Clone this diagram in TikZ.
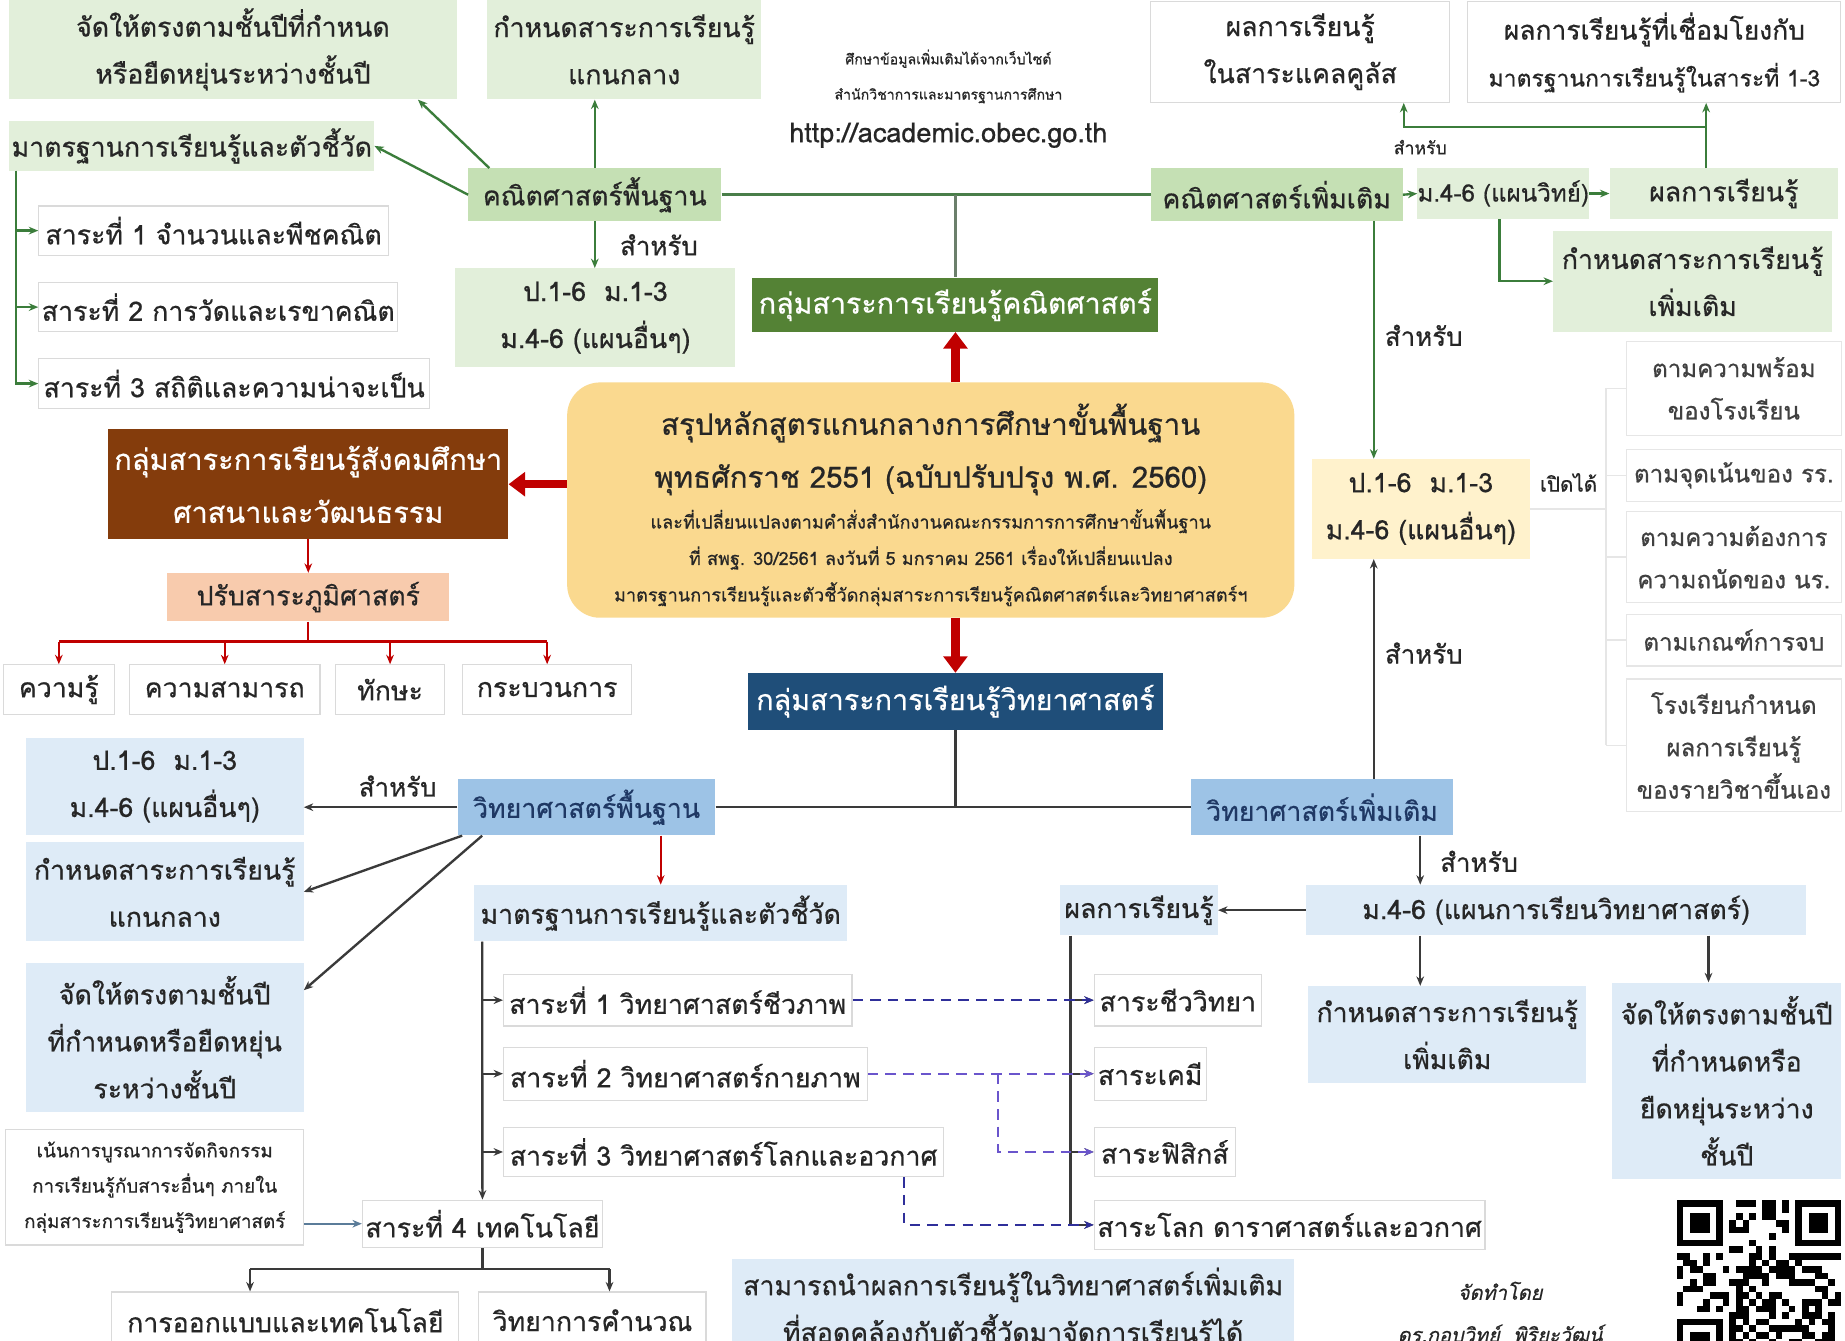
\documentclass[tikz,border=0pt]{standalone}
\usepackage{fontspec}
\setmainfont[Script=Thai,FakeBold=0.6]{Loma}
\usetikzlibrary{arrows.meta,calc}
\definecolor{lgreen}{HTML}{E2EFDA}
\definecolor{mgreen}{HTML}{C5E0B4}
\definecolor{dgreen}{HTML}{548235}
\definecolor{lblue}{HTML}{DEEBF7}
\definecolor{mblue}{HTML}{9DC3E6}
\definecolor{dblue}{HTML}{1F4E79}
\definecolor{navytxt}{HTML}{1F3864}
\definecolor{brownc}{HTML}{843C0C}
\definecolor{peach}{HTML}{F8CBAD}
\definecolor{orng}{HTML}{FAD98F}
\definecolor{yelc}{HTML}{FFF2CC}
\definecolor{redc}{HTML}{C00000}
\definecolor{cgreen}{HTML}{3B7D3B}
\definecolor{dk}{HTML}{3A3A3A}
\definecolor{bord}{HTML}{DADADA}
\definecolor{txt}{HTML}{262626}
\definecolor{gtxt}{HTML}{404040}
\definecolor{dashA}{HTML}{2F2F9A}
\definecolor{dashB}{HTML}{6A55CC}
\definecolor{faintc}{HTML}{E6E6E6}
\definecolor{bluegray}{HTML}{5B7C99}
\newcommand\fsz[2]{\fontsize{#1}{#2}\selectfont}
\tikzset{
  bx/.style={inner sep=0pt, align=center, text=txt, font=\fsz{22.7}{40}},
  sz/.style 2 args={minimum width=#1pt, minimum height=#2pt},
  lg/.style={bx, fill=lgreen},
  mg/.style={bx, fill=mgreen},
  lb/.style={bx, fill=lblue},
  mb/.style={bx, fill=mblue, text=navytxt},
  wb/.style={bx, fill=white, draw=bord, line width=1pt},
  rb/.style={bx, fill=white, draw=faintc, line width=1pt, text=gtxt, font=\fsz{20.5}{36}},
  lbl/.style={inner sep=0pt, align=center, text=txt, font=\fsz{22}{26}},
  tip/.style={-{Stealth[length=8pt,width=6.5pt]}},
  gline/.style={draw=cgreen, line width=2pt},
  gthick/.style={draw=cgreen!80!gray, line width=3pt},
  garr/.style={gline, tip},
  dline/.style={draw=dk, line width=2pt},
  darr/.style={dline, tip},
  barr/.style={draw=bluegray, line width=2pt, tip},
  rline/.style={draw=redc, line width=2pt},
  rarr/.style={rline, tip},
  bigred/.style={draw=redc, line width=7pt, -{Triangle[length=14pt,width=20pt]}},
  dshA/.style={draw=dashA, line width=2pt, dash pattern=on 9pt off 6pt, tip},
  dshB/.style={draw=dashB, line width=2pt, dash pattern=on 9pt off 6pt, tip},
  faint/.style={draw=faintc, line width=1.2pt},
}
\begin{document}
\begin{tikzpicture}[x=1pt,y=-1pt]
\useasboundingbox (0,0) rectangle (1568,1139);
\clip (0,0) rectangle (1568,1139);
\fill[white] (0,0) rectangle (1568,1139);

% ---------- top row ----------
\node[lg, sz={380}{85}] (a1) at (198,42) {จัดให้ตรงตามชั้นปีที่กำหนด\\หรือยืดหยุ่นระหว่างชั้นปี};
\node[lg, sz={233}{85}] (a2) at (530.5,42) {กำหนดสาระการเรียนรู้\\แกนกลาง};
\node[lbl, font=\fsz{12}{30}] (web) at (806,65) {ศึกษาข้อมูลเพิ่มเติมได้จากเว็บไซต์\\สำนักวิชาการและมาตรฐานการศึกษา};
\node[lbl, font=\fsz{23}{26}] (url) at (806,115) {http://academic.obec.go.th};
\node[wb, sz={254}{86}] (a3) at (1105,44) {ผลการเรียนรู้\\ในสาระแคลคูลัส};
\node[wb, sz={317}{86}] (a4) at (1406,44) {};
\node[lbl, font=\fsz{22.5}{26}] (a4t) at (1406,25) {ผลการเรียนรู้ที่เชื่อมโยงกับ};
\node[lbl, font=\fsz{19.5}{22}] (a4b) at (1406,66) {มาตรฐานการเรียนรู้ในสาระที่ 1-3};

% ---------- math ----------
\node[lg, sz={310}{42}] (mat1) at (163,124) {มาตรฐานการเรียนรู้และตัวชี้วัด};
\node[mg, sz={215}{45}] (kp) at (505.5,165.5) {คณิตศาสตร์พื้นฐาน};
\node[mg, sz={214}{45}] (kt) at (1085,165.5) {คณิตศาสตร์เพิ่มเติม};
\node[lg, sz={135}{43}, font=\fsz{20.5}{24}] (m46a) at (1277.5,164.5) {ม.4-6 (แผนวิทย์)};
\node[lg, sz={194}{43}] (pla) at (1465,164.5) {ผลการเรียนรู้};
\node[wb, sz={297}{42}] (s1) at (181.5,196) {สาระที่ 1 จำนวนและพีชคณิต};
\node[wb, sz={305}{42}] (s2) at (185.5,261) {สาระที่ 2 การวัดและเรขาคณิต};
\node[wb, sz={332}{42}] (s3) at (199,326) {สาระที่ 3 สถิติและความน่าจะเป็น};
\node[lg, sz={238}{84}] (p1) at (506,270) {ป.1-6\ \ ม.1-3\\ม.4-6 (แผนอื่นๆ)};
\node[bx, fill=dgreen, text=white, sz={345}{46}, font=\fsz{24.3}{30}] (gk) at (812,259) {กลุ่มสาระการเรียนรู้คณิตศาสตร์};
\node[lg, sz={237}{86}] (kadd) at (1438.5,239) {กำหนดสาระการเรียนรู้\\เพิ่มเติม};

% ---------- center ----------
\node[bx, fill=orng, rounded corners=28pt, sz={618}{200}] (or) at (791,425) {};
\node[lbl, font=\fsz{25}{45}] (ort) at (791,382) {สรุปหลักสูตรแกนกลางการศึกษาขั้นพื้นฐาน\\พุทธศักราช 2551 (ฉบับปรับปรุง พ.ศ. 2560)};
\node[lbl, font=\fsz{15.4}{31}] (ors) at (791,474) {และที่เปลี่ยนแปลงตามคำสั่งสำนักงานคณะกรรมการการศึกษาขั้นพื้นฐาน\\ที่ สพฐ. 30/2561 ลงวันที่ 5 มกราคม 2561 เรื่องให้เปลี่ยนแปลง\\มาตรฐานการเรียนรู้และตัวชี้วัดกลุ่มสาระการเรียนรู้คณิตศาสตร์และวิทยาศาสตร์ฯ};

\node[bx, fill=brownc, text=white, sz={340}{93}, font=\fsz{24.6}{45}] (soc) at (262,411.5) {กลุ่มสาระการเรียนรู้สังคมศึกษา\\ศาสนาและวัฒนธรรม};
\node[bx, fill=peach, sz={240}{41}] (geo) at (262,507.5) {ปรับสาระภูมิศาสตร์};
\node[wb, sz={94}{42}] (k1) at (50,586) {ความรู้};
\node[wb, sz={162}{42}] (k2) at (191,586) {ความสามารถ};
\node[wb, sz={93}{42}] (k3) at (331.5,586) {ทักษะ};
\node[wb, sz={144}{42}] (k4) at (465,586) {กระบวนการ};

\node[bx, fill=yelc, sz={185}{85}] (yel) at (1207.5,432.5) {ป.1-6\ \ ม.1-3\\ม.4-6 (แผนอื่นๆ)};
\node[lbl, font=\fsz{17.5}{20}] (open) at (1333,410) {เปิดได้};
\node[rb, sz={183}{80}] (r1) at (1473.5,330) {ตามความพร้อม\\ของโรงเรียน};
\node[rb, sz={183}{44}] (r2) at (1473.5,404) {ตามจุดเน้นของ รร.};
\node[rb, sz={183}{77}] (r3) at (1473.5,473.5) {ตามความต้องการ\\ความถนัดของ นร.};
\node[rb, sz={183}{44}] (r4) at (1473.5,544) {ตามเกณฑ์การจบ};
\node[rb, sz={183}{113}] (r5) at (1473.5,633.5) {โรงเรียนกำหนด\\ผลการเรียนรู้\\ของรายวิชาขึ้นเอง};

% ---------- science ----------
\node[bx, fill=dblue, text=white, sz={352}{48}, font=\fsz{24.4}{30}] (gv) at (812,596) {กลุ่มสาระการเรียนรู้วิทยาศาสตร์};
\node[mb, sz={219}{48}] (vp) at (498.5,686) {วิทยาศาสตร์พื้นฐาน};
\node[mb, sz={223}{48}] (vt) at (1123.5,686) {วิทยาศาสตร์เพิ่มเติม};
\node[lb, sz={236}{83}] (b1) at (140,668.5) {ป.1-6\ \ ม.1-3\\ม.4-6 (แผนอื่นๆ)};
\node[lb, sz={236}{84}] (b2) at (140,758) {กำหนดสาระการเรียนรู้\\แกนกลาง};
\node[lb, sz={236}{127}] (b3) at (140,881.5) {จัดให้ตรงตามชั้นปี\\ที่กำหนดหรือยืดหยุ่น\\ระหว่างชั้นปี};
\node[lb, sz={317}{48}] (vm) at (561.5,776) {มาตรฐานการเรียนรู้และตัวชี้วัด};
\node[wb, sz={296}{44}] (vs1) at (576,850) {สาระที่ 1 วิทยาศาสตร์ชีวภาพ};
\node[wb, sz={309}{45}] (vs2) at (582.5,912.5) {สาระที่ 2 วิทยาศาสตร์กายภาพ};
\node[wb, sz={374}{42}] (vs3) at (615,979) {สาระที่ 3 วิทยาศาสตร์โลกและอวกาศ};
\node[wb, sz={204}{40}] (vs4) at (410,1040) {สาระที่ 4 เทคโนโลยี};
\node[wb, sz={253}{98}, font=\fsz{16}{30}] (note) at (131.5,1009) {เน้นการบูรณาการจัดกิจกรรม\\การเรียนรู้กับสาระอื่นๆ ภายใน\\กลุ่มสาระการเรียนรู้วิทยาศาสตร์};
\node[wb, sz={295}{48}] (t1) at (242.5,1122) {การออกแบบและเทคโนโลยี};
\node[wb, sz={193}{48}] (t2) at (503.5,1122) {วิทยาการคำนวณ};
\node[lb, sz={425}{43}] (vm46) at (1322.5,773.5) {ม.4-6 (แผนการเรียนวิทยาศาสตร์)};
\node[lb, sz={134}{43}] (vpl) at (968,773.5) {ผลการเรียนรู้};
\node[wb, sz={142}{44}] (c1) at (1001,850) {สาระชีววิทยา};
\node[wb, sz={95}{45}] (c2) at (977.5,912.5) {สาระเคมี};
\node[wb, sz={120}{42}] (c3) at (990,979) {สาระฟิสิกส์};
\node[wb, sz={332}{42}] (c4) at (1096,1041) {สาระโลก ดาราศาสตร์และอวกาศ};
\node[lb, sz={236}{82}] (vadd) at (1230,879) {กำหนดสาระการเรียนรู้\\เพิ่มเติม};
\node[lb, sz={195}{167}] (vgr) at (1467.5,918.5) {จัดให้ตรงตามชั้นปี\\ที่กำหนดหรือ\\ยืดหยุ่นระหว่าง\\ชั้นปี};
\node[lb, sz={478}{110}] (bot) at (861,1125) {};
\node[lbl, font=\fsz{22.7}{40}] (bott) at (861,1112) {สามารถนำผลการเรียนรู้ในวิทยาศาสตร์เพิ่มเติม\\ที่สอดคล้องกับตัวชี้วัดมาจัดการเรียนรู้ได้};
\node[lbl, font=\fsz{17}{36}\itshape] (cred) at (1275,1115) {จัดทำโดย\\ดร.กอบวิทย์\ \ พิริยะวัฒน์};

% ---------- connectors: math ----------
\draw[garr] ([xshift=18pt]kp.north west) -- ([xshift=-33pt]a1.south east);
\draw[garr] (kp.west) -- (mat1.east);
\draw[garr] (kp.north) -- (kp.north |- a2.south);
\draw[garr] (kp.south) -- (kp.south |- p1.north);
\node[lbl] (for1) at (560,208) {สำหรับ};
\draw[gthick] (kp.east) -- (kt.west);
\draw[draw=gray!70!cgreen, line width=2pt] (gk.north |- kp.east) -- (gk.north);
\draw[garr] ([xshift=6pt]mat1.south west) |- (s1.west);
\draw[garr] ([xshift=6pt]mat1.south west) |- (s2.west);
\draw[garr] ([xshift=6pt]mat1.south west) |- (s3.west);
\draw[garr] (kt.east) -- (m46a.west);
\draw[garr] (m46a.east) -- (pla.west);
\coordinate (br) at (1450,108);
\draw[gline] (br |- pla.north) -- (br);
\draw[garr] (br) -- (br |- a4.south);
\draw[garr] (br) -| ([xshift=88pt]a3.south);
\node[lbl, font=\fsz{15}{18}] (for2) at (1207,125) {สำหรับ};
\draw[garr] ([xshift=-40pt]yel.north |- kt.south) -- ([xshift=-40pt]yel.north);
\node[lbl] (for3) at (1210,285) {สำหรับ};
\draw[garr] ([xshift=-3pt]m46a.south) |- (kadd.west);

% ---------- connectors: center ----------
\coordinate (fb) at (1365,330);
\draw[faint] (fb) -- (fb |- r5.west);
\foreach \r in {r1,r2,r3,r4,r5} \draw[faint] (fb |- \r.west) -- (\r.west);
\draw[faint] (yel.east) -- (fb |- yel.east);
\draw[bigred] (or.north -| gk.south) -- (gk.south);
\draw[bigred] (or.west |- soc.east) -- (soc.east);
\draw[bigred] (or.south -| gv.north) -- (gv.north);
\draw[rarr] (soc.south) -- (geo.north);
\coordinate (gt) at ($(geo.south)+(0,17)$);
\draw[rline] (geo.south) -- (gt);
\draw[rline] (k1.north |- gt) -- (k4.north |- gt);
\foreach \k in {k1,k2,k3,k4} \draw[rarr] (\k.north |- gt) -- (\k.north);

% ---------- connectors: science ----------
\draw[dline] (gv.south) -- (gv.south |- vp.east);
\draw[dline] (vp.east) -- (vt.west);
\draw[darr] (vp.west) -- (vp.west -| b1.east);
\node[lbl] (for4) at (338,668) {สำหรับ};
\draw[darr] ([xshift=4pt]vp.south west) -- (b2.east);
\draw[darr] ([xshift=21pt]vp.south west) -- ([yshift=40pt]b3.east);
\draw[rarr, line width=1.5pt] (vm.north |- vp.south) -- (vm.north);
\draw[darr] ([xshift=7pt]vm.south west) |- (vs1.west);
\draw[darr] ([xshift=7pt]vm.south west) |- (vs2.west);
\draw[darr] ([xshift=7pt]vm.south west) |- (vs3.west);
\draw[darr] ([xshift=7pt]vm.south west) -- (vs4.north);
\draw[barr] (note.east |- vs4.west) -- (vs4.west);
\coordinate (tt) at ($(vs4.south)+(0,18)$);
\draw[dline] (vs4.south) -- (tt);
\draw[dline] ([xshift=-30pt]t1.north |- tt) -- ([xshift=14.5pt]t2.north |- tt);
\draw[darr] ([xshift=-30pt]t1.north |- tt) -- ([xshift=-30pt]t1.north);
\draw[darr] ([xshift=14.5pt]t2.north |- tt) -- ([xshift=14.5pt]t2.north);
\draw[darr] ([xshift=44pt]vt.north) -- ([xshift=-40pt]yel.south);
\node[lbl] (for5) at (1210,555) {สำหรับ};
\draw[darr] ([xshift=83.5pt]vt.south) -- ([xshift=83.5pt]vt.south |- vm46.north);
\node[lbl] (for6) at (1257,732) {สำหรับ};
\draw[darr] (vm46.west) -- (vpl.east);
\coordinate (pv) at ($(vpl.south west)+(9,0)$);
\draw[dline] (pv) -- (pv |- c4.west);
\foreach \c in {c1,c2,c3,c4} \draw[darr] (pv |- \c.west) -- (\c.west);
\draw[dshA] (vs1.east) -- (c1.west);
\coordinate (d2) at (848,912.5);
\draw[dshB] (vs2.east) -- (c2.west);
\draw[dshB] (d2) |- (c3.west);
\draw[dshA] ([xshift=-34pt]vs3.south east) |- (c4.west);
\draw[darr] ([xshift=-115.5pt]vm46.south) -- ([xshift=-115.5pt]vm46.south |- vadd.north);
\draw[darr] ([xshift=129.5pt]vm46.south) -- ([xshift=129.5pt]vm46.south |- vgr.north);

% ---------- QR ----------
\begin{scope}[shift={(1425,1020)}]
\pgfmathsetseed{12}
\foreach \i in {0,...,24}{\foreach \j in {0,...,24}{
  \pgfmathtruncatemacro\rr{rnd<0.45?1:0}
  \ifnum\rr=1 \fill[black] (\i*5.6,\j*5.6) rectangle ++(5.6,5.6);\fi
}}
\foreach \fx/\fy in {0/0,17/0,0/17} \fill[white] (\fx*5.6,\fy*5.6) rectangle ++(8*5.6,8*5.6);
\foreach \fx/\fy in {0/0,18/0,0/18}{
  \fill[black] (\fx*5.6,\fy*5.6) rectangle ++(7*5.6,7*5.6);
  \fill[white] (\fx*5.6+5.6,\fy*5.6+5.6) rectangle ++(5*5.6,5*5.6);
  \fill[black] (\fx*5.6+11.2,\fy*5.6+11.2) rectangle ++(3*5.6,3*5.6);
}
\end{scope}
\end{tikzpicture}
\end{document}
